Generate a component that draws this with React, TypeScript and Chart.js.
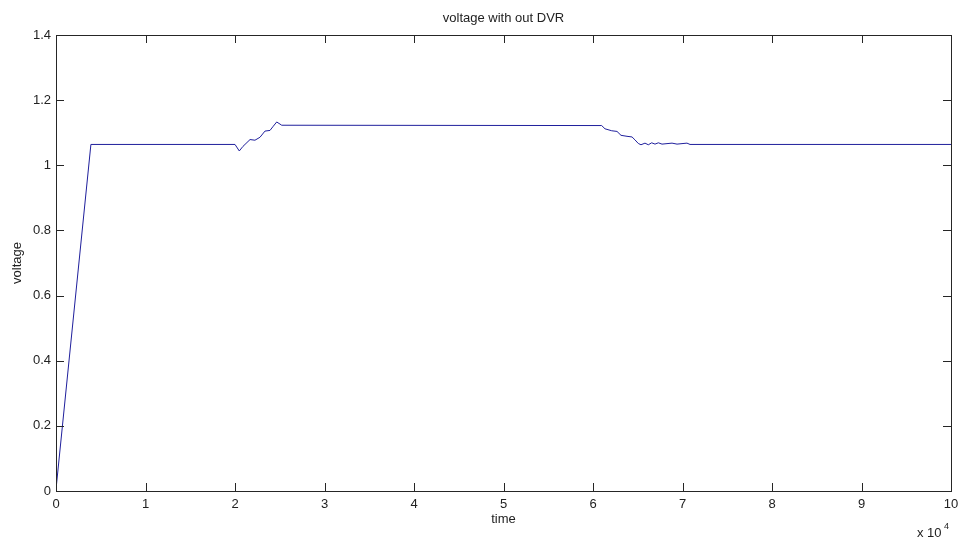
import React, { useEffect, useRef } from "react";
import { Chart, registerables } from "chart.js";

Chart.register(...registerables);

const timeValues = [
  0, 3900, 20000, 20480, 20890, 21680, 22230, 22790, 23350, 23910, 24280, 24660, 25220,
  60970, 61340, 62090, 62680, 63130, 63800, 64360, 64690, 65060, 65360, 65810, 66180, 66560,
  66930, 67300, 67710, 68830, 69390, 70500, 70840, 100000,
];

const voltageValues = [
  0.005, 1.064, 1.064, 1.044, 1.058, 1.079, 1.077, 1.086, 1.105, 1.107, 1.12, 1.133, 1.123,
  1.122, 1.112, 1.106, 1.104, 1.092, 1.089, 1.087, 1.078, 1.067, 1.063, 1.068, 1.063, 1.069,
  1.065, 1.069, 1.065, 1.068, 1.065, 1.068, 1.064, 1.064,
];

const xTicks = [0, 1, 2, 3, 4, 5, 6, 7, 8, 9, 10];
const yTicks = [0, 0.2, 0.4, 0.6, 0.8, 1, 1.2, 1.4];

const titleText = "voltage with out DVR";
const xLabel = "time";
const yLabel = "voltage";

const FONT = "'Liberation Sans', Arial, sans-serif";

export default function App() {
  const ref = useRef<HTMLCanvasElement | null>(null);

  useEffect(() => {
    document.body.style.margin = "0";
    const canvas = ref.current;
    if (!canvas) return;

    const points = timeValues.map((t, i) => ({ x: t, y: voltageValues[i] }));

    const frame = {
      id: "matlabFrame",
      afterDraw(chart: any) {
        const { ctx, chartArea } = chart;
        const xs = chart.scales.x;
        const ys = chart.scales.y;
        const { left, right, top, bottom } = chartArea;
        ctx.save();
        ctx.strokeStyle = "#262626";
        ctx.lineWidth = 1;
        ctx.strokeRect(Math.round(left) + 0.5, Math.round(top) + 0.5, Math.round(right - left), Math.round(bottom - top));
        const tl = 8;
        ctx.beginPath();
        xTicks.forEach((v) => {
          const px = Math.round(xs.getPixelForValue(v * 10000)) + 0.5;
          ctx.moveTo(px, bottom);
          ctx.lineTo(px, bottom - tl);
          ctx.moveTo(px, top);
          ctx.lineTo(px, top + tl);
        });
        yTicks.forEach((v) => {
          const py = Math.round(ys.getPixelForValue(v)) + 0.5;
          ctx.moveTo(left, py);
          ctx.lineTo(left + tl, py);
          ctx.moveTo(right, py);
          ctx.lineTo(right - tl, py);
        });
        ctx.stroke();

        ctx.fillStyle = "#222";
        ctx.font = `13px ${FONT}`;
        ctx.textAlign = "center";
        ctx.textBaseline = "middle";
        ctx.fillText(titleText, (left + right) / 2, 18);
        ctx.fillText(xLabel, (left + right) / 2, 519);
        ctx.save();
        ctx.translate(17, (top + bottom) / 2);
        ctx.rotate(-Math.PI / 2);
        ctx.fillText(yLabel, 0, 0);
        ctx.restore();
        ctx.textAlign = "left";
        ctx.font = `13px ${FONT}`;
        ctx.fillText("x 10", 917, 533);
        ctx.font = `9px ${FONT}`;
        ctx.fillText("4", 944, 527);
        ctx.restore();
      },
    };

    const chart = new Chart(canvas, {
      type: "line",
      data: {
        datasets: [
          {
            data: points,
            borderColor: "#1f1f9c",
            borderWidth: 1,
            pointRadius: 0,
            tension: 0,
            fill: false,
          },
        ],
      },
      options: {
        animation: false,
        responsive: false,
        layout: { padding: { left: 0, right: 8, top: 35, bottom: 0 } },
        plugins: { legend: { display: false }, title: { display: false }, tooltip: { enabled: false } },
        scales: {
          x: {
            type: "linear",
            min: 0,
            max: 100000,
            grid: { display: false, drawTicks: false },
            border: { display: false },
            afterBuildTicks(scale: any) {
              scale.ticks = xTicks.map((v) => ({ value: v * 10000 }));
            },
            afterFit(scale: any) {
              scale.height = 49;
              scale.paddingLeft = 0;
              scale.paddingRight = 0;
            },
            ticks: {
              padding: 6,
              color: "#222",
              font: { family: FONT, size: 13 },
              maxRotation: 0,
              autoSkip: false,
              callback: (v: any) => String(Number(v) / 10000),
            },
          },
          y: {
            type: "linear",
            min: 0,
            max: 1.4,
            grid: { display: false, drawTicks: false },
            border: { display: false },
            afterBuildTicks(scale: any) {
              scale.ticks = yTicks.map((v) => ({ value: v }));
            },
            afterFit(scale: any) {
              scale.width = 56;
              scale.paddingTop = 0;
              scale.paddingBottom = 0;
            },
            ticks: {
              padding: 5,
              color: "#222",
              font: { family: FONT, size: 13 },
              autoSkip: false,
              callback: (v: any) => String(Math.round(Number(v) * 10) / 10),
            },
          },
        },
      },
      plugins: [frame],
    });

    return () => chart.destroy();
  }, []);

  return (
    <div style={{ width: 959, height: 540, background: "#fff" }}>
      <canvas ref={ref} width={959} height={540} />
    </div>
  );
}
